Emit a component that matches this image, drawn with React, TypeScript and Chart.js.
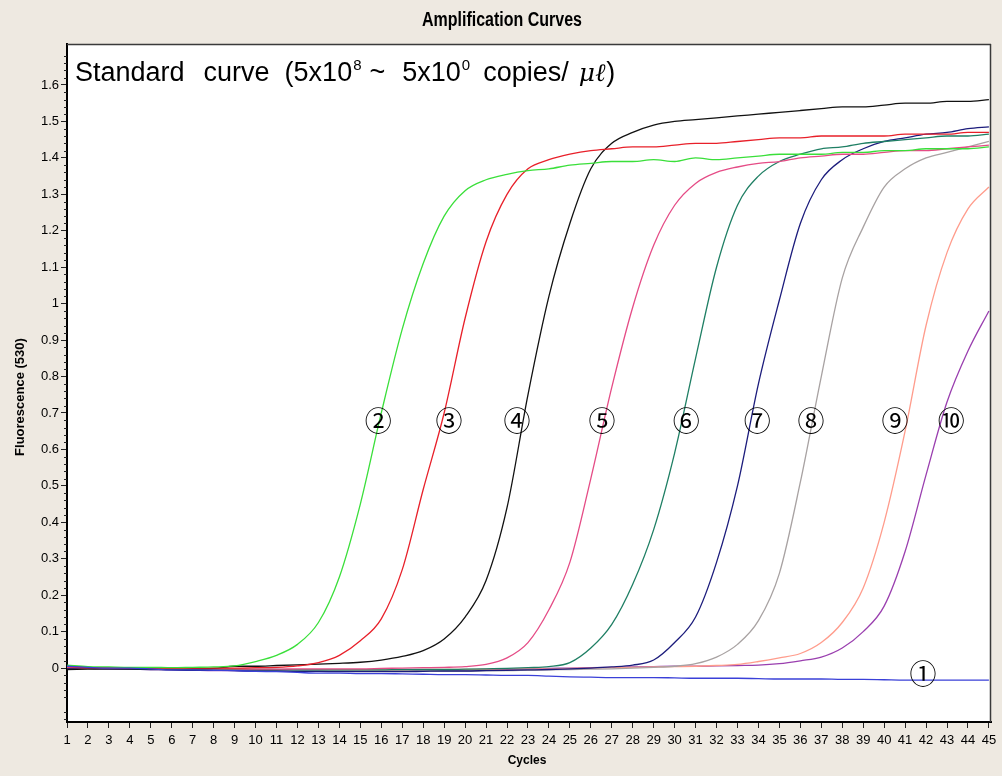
import { useEffect, useRef } from "react";
import { Chart, registerables } from "chart.js";

Chart.register(...registerables);

// ---------------- data ----------------
const cycles = [
  1, 2, 3, 4, 5, 6, 7, 8, 9, 10, 11, 12, 13, 14, 15, 16, 17, 18, 19, 20, 21, 22, 23,
  24, 25, 26, 27, 28, 29, 30, 31, 32, 33, 34, 35, 36, 37, 38, 39, 40, 41, 42, 43, 44, 45,
];

const xTickLabels = cycles.map((c) => String(c));

const yTickValues = [0, 0.1, 0.2, 0.3, 0.4, 0.5, 0.6, 0.7, 0.8, 0.9, 1, 1.1, 1.2, 1.3, 1.4, 1.5, 1.6];
const yTickLabels = ["0", "0.1", "0.2", "0.3", "0.4", "0.5", "0.6", "0.7", "0.8", "0.9", "1", "1.1", "1.2", "1.3", "1.4", "1.5", "1.6"];

const sample1 = [
  0.005, 0.002, 0.0, 0.0, -0.002, -0.005, -0.005, -0.006, -0.007, -0.009, -0.01, -0.012, -0.014, -0.014, -0.015,
  -0.015, -0.016, -0.017, -0.018, -0.018, -0.019, -0.02, -0.02, -0.022, -0.024, -0.025, -0.026, -0.026, -0.026, -0.027,
  -0.028, -0.028, -0.028, -0.029, -0.03, -0.03, -0.03, -0.031, -0.031, -0.032, -0.033, -0.033, -0.033, -0.033, -0.033,
];
const sample2 = [
  0.008, 0.004, 0.003, 0.002, 0.002, 0.001, 0.002, 0.003, 0.006, 0.018, 0.035, 0.065, 0.125, 0.25, 0.45,
  0.7, 0.93, 1.11, 1.24, 1.31, 1.34, 1.355, 1.365, 1.37, 1.38, 1.385, 1.39, 1.39, 1.395, 1.39,
  1.4, 1.395, 1.4, 1.405, 1.41, 1.41, 1.41, 1.415, 1.415, 1.42, 1.42, 1.425, 1.425, 1.425, 1.43,
];
const sample3 = [
  0.004, 0.001, 0.0, 0.0, -0.001, -0.001, 0.0, 0.0, 0.0, 0.001, 0.002, 0.006, 0.015, 0.035, 0.075,
  0.135, 0.27, 0.49, 0.7, 0.96, 1.17, 1.3, 1.37, 1.395, 1.41, 1.42, 1.425, 1.43, 1.43, 1.435,
  1.44, 1.44, 1.445, 1.45, 1.455, 1.455, 1.46, 1.46, 1.46, 1.46, 1.465, 1.465, 1.465, 1.47, 1.47,
];
const sample4 = [
  -0.004, -0.003, -0.002, -0.002, -0.002, -0.002, -0.002, -0.001, 0.005, 0.005, 0.007, 0.009, 0.011, 0.013, 0.016,
  0.022, 0.032, 0.048, 0.08, 0.14, 0.24, 0.44, 0.75, 1.02, 1.22, 1.37, 1.44, 1.47, 1.49, 1.5,
  1.505, 1.51, 1.515, 1.52, 1.525, 1.53, 1.535, 1.54, 1.54, 1.545, 1.55, 1.55, 1.555, 1.555, 1.56,
];
const sample5 = [
  0.002, 0.0, 0.0, 0.0, 0.0, 0.0, -0.001, -0.002, -0.002, -0.003, -0.003, -0.002, -0.002, -0.002, -0.002,
  -0.001, 0.0, 0.001, 0.002, 0.004, 0.01, 0.028, 0.07, 0.16, 0.29, 0.52, 0.77, 0.99, 1.16, 1.27,
  1.33, 1.36, 1.375, 1.385, 1.39, 1.4, 1.405, 1.41, 1.41, 1.415, 1.42, 1.42, 1.425, 1.43, 1.435,
];
const sample6 = [
  0.006, 0.002, 0.0, -0.001, -0.002, -0.002, -0.003, -0.003, -0.004, -0.004, -0.004, -0.005, -0.005, -0.005, -0.005,
  -0.005, -0.004, -0.004, -0.004, -0.003, -0.002, -0.001, 0.001, 0.004, 0.015, 0.055, 0.12, 0.23, 0.38, 0.59,
  0.85, 1.1, 1.27, 1.35, 1.39, 1.41, 1.425, 1.43, 1.44, 1.445, 1.45, 1.455, 1.46, 1.46, 1.465,
];
const sample7 = [
  0.0, -0.001, -0.002, -0.003, -0.004, -0.005, -0.006, -0.006, -0.007, -0.008, -0.008, -0.009, -0.009, -0.01, -0.01,
  -0.01, -0.01, -0.009, -0.008, -0.008, -0.007, -0.006, -0.005, -0.004, -0.002, 0.0, 0.003, 0.008, 0.022, 0.07,
  0.14, 0.29, 0.5, 0.78, 1.01, 1.22, 1.34, 1.395, 1.425, 1.445, 1.455, 1.465, 1.47, 1.48, 1.485,
];
const sample8 = [
  0.003, 0.0, -0.001, -0.002, -0.003, -0.004, -0.004, -0.005, -0.005, -0.006, -0.006, -0.007, -0.007, -0.007, -0.008,
  -0.008, -0.008, -0.008, -0.008, -0.008, -0.007, -0.007, -0.006, -0.005, -0.004, -0.003, -0.002, 0.0, 0.002, 0.005,
  0.012, 0.03, 0.065, 0.13, 0.26, 0.51, 0.8, 1.07, 1.21, 1.32, 1.37, 1.4, 1.415, 1.43, 1.445,
];
const sample9 = [
  0.002, 0.0, -0.001, -0.002, -0.002, -0.003, -0.003, -0.004, -0.004, -0.004, -0.005, -0.005, -0.005, -0.005, -0.005,
  -0.005, -0.005, -0.004, -0.004, -0.004, -0.003, -0.003, -0.002, -0.002, -0.001, 0.0, 0.001, 0.002, 0.003, 0.004,
  0.005, 0.007, 0.01, 0.018, 0.028, 0.04, 0.07, 0.125, 0.22, 0.4, 0.65, 0.94, 1.14, 1.26, 1.32,
];
const sample10 = [
  0.0, -0.001, -0.002, -0.003, -0.004, -0.005, -0.006, -0.007, -0.007, -0.008, -0.008, -0.008, -0.008, -0.008, -0.008,
  -0.007, -0.007, -0.006, -0.006, -0.005, -0.004, -0.003, -0.002, -0.001, 0.0, 0.001, 0.002, 0.003, 0.004, 0.005,
  0.005, 0.006, 0.007, 0.008, 0.012, 0.02, 0.03, 0.055, 0.1, 0.17, 0.32, 0.53, 0.73, 0.87, 0.98,
];

const seriesValues = [sample1, sample2, sample3, sample4, sample5, sample6, sample7, sample8, sample9, sample10];
const seriesNames = ["1", "2", "3", "4", "5", "6", "7", "8", "9", "10"];
const seriesColors = [
  "#3A40D8", "#3ADF3A", "#E8202A", "#111111", "#E54C86",
  "#1F7F64", "#1C1C7C", "#A8A2A2", "#FF9C8C", "#9A3FAF",
];

// circled curve labels
const labelTexts = ["①", "②", "③", "④", "⑤", "⑥", "⑦", "⑧", "⑨", "⑩"];
const labelCycles = [41.86, 15.85, 19.23, 22.48, 26.54, 30.55, 33.94, 36.51, 40.52, 43.2];
const labelValues = [-0.014, 0.678, 0.678, 0.678, 0.678, 0.678, 0.678, 0.678, 0.678, 0.678];

const titleText = "Amplification Curves";
const yTitle = "Fluorescence (530)";
const xTitle = "Cycles";

const BG = "#EEE9E1";
const SANS = "'Liberation Sans', Arial, sans-serif";

const decor = {
  id: "decor",
  beforeDraw(chart: any) {
    const { ctx, chartArea: a } = chart;
    ctx.save();
    ctx.fillStyle = BG;
    ctx.fillRect(0, 0, chart.width, chart.height);
    ctx.fillStyle = "#ffffff";
    ctx.fillRect(a.left, a.top, a.right - a.left, a.bottom - a.top);
    ctx.restore();
  },
  afterDatasetsDraw(chart: any) {
    const { ctx, chartArea: a, scales } = chart;
    const xs = scales.x;
    const ys = scales.y;
    ctx.save();
    // circled labels
    ctx.fillStyle = "#000";
    ctx.font = "27px 'Noto Sans CJK KR', 'DejaVu Sans', sans-serif";
    ctx.textAlign = "center";
    ctx.textBaseline = "alphabetic";
    labelTexts.forEach((t, i) => {
      const px = xs.getPixelForValue(labelCycles[i]);
      const py = ys.getPixelForValue(labelValues[i]);
      const m = ctx.measureText(t);
      const off = (m.actualBoundingBoxAscent - m.actualBoundingBoxDescent) / 2;
      ctx.fillText(t, px, py + off);
    });

    // annotation text
    const big = "27px " + SANS;
    const small = "15px " + SANS;
    const ital = "italic 25px 'DejaVu Serif', serif";
    const parts: { t: string; f: string; dy: number; gap: number }[] = [
      { t: "Standard", f: big, dy: 0, gap: 19 },
      { t: "curve", f: big, dy: 0, gap: 15 },
      { t: "(5x10", f: big, dy: 0, gap: 1 },
      { t: "8", f: small, dy: -11, gap: 8 },
      { t: "~", f: big, dy: 0, gap: 17 },
      { t: "5x10", f: big, dy: 0, gap: 1 },
      { t: "0", f: small, dy: -11, gap: 13 },
      { t: "copies/", f: big, dy: 0, gap: 10 },
      { t: "μℓ", f: ital, dy: 0, gap: 1 },
      { t: ")", f: big, dy: 0, gap: 0 },
    ];
    let x = a.left + 8;
    const base = a.top + 37;
    ctx.textAlign = "left";
    parts.forEach((p) => {
      ctx.font = p.f;
      ctx.fillText(p.t, x, base + p.dy);
      x += ctx.measureText(p.t).width + p.gap;
    });

    // frame top/right
    ctx.strokeStyle = "#3a3a3a";
    ctx.lineWidth = 1.5;
    ctx.beginPath();
    ctx.moveTo(a.left, a.top + 0.5);
    ctx.lineTo(a.right, a.top + 0.5);
    ctx.moveTo(a.right - 0.5, a.top);
    ctx.lineTo(a.right - 0.5, a.bottom);
    ctx.stroke();
    ctx.restore();
  },
  afterDraw(chart: any) {
    const { ctx, chartArea: a, scales } = chart;
    const ys = scales.y;
    ctx.save();
    // minor ticks on y axis
    ctx.strokeStyle = "#222";
    ctx.lineWidth = 1;
    ctx.beginPath();
    for (let k = -7; k <= 85; k++) {
      if (k % 5 === 0) continue;
      const py = Math.round(ys.getPixelForValue(k * 0.02)) + 0.5;
      if (py < a.top || py > a.bottom) continue;
      ctx.moveTo(a.left - 3, py);
      ctx.lineTo(a.left, py);
    }
    ctx.stroke();

    // chart title (condensed bold)
    ctx.fillStyle = "#000";
    ctx.save();
    ctx.translate((chart.width) / 2 + 1, 20);
    ctx.scale(0.8, 1);
    ctx.font = "bold 20px " + SANS;
    ctx.textAlign = "center";
    ctx.textBaseline = "middle";
    ctx.fillText(titleText, 0, 0);
    ctx.restore();

    // axis titles
    ctx.font = "bold 12px " + SANS;
    ctx.textAlign = "center";
    ctx.textBaseline = "middle";
    ctx.fillText(xTitle, 527, 761);
    ctx.font = "bold 13px " + SANS;
    ctx.translate(20, 397);
    ctx.rotate(-Math.PI / 2);
    ctx.fillText(yTitle, 0, 0);
    ctx.restore();
  },
};

export default function App() {
  const ref = useRef<HTMLCanvasElement | null>(null);

  useEffect(() => {
    document.body.style.margin = "0";
    document.body.style.background = BG;
    const canvas = ref.current;
    if (!canvas) return;
    const chart = new Chart(canvas, {
      type: "line",
      data: {
        datasets: seriesValues.map((vals, si) => ({
          label: seriesNames[si],
          data: cycles.map((c, i) => ({ x: c, y: vals[i] })),
          borderColor: seriesColors[si],
          backgroundColor: seriesColors[si],
          borderWidth: 1.3,
          pointRadius: 0,
          cubicInterpolationMode: "monotone",
          fill: false,
        })),
      },
      options: {
        responsive: false,
        animation: false,
        devicePixelRatio: 1,
        layout: { padding: { left: 0, right: 11, top: 44, bottom: 0 } },
        plugins: {
          legend: { display: false },
          tooltip: { enabled: false },
          title: { display: false },
        },
        scales: {
          x: {
            type: "linear",
            min: 1,
            max: 45.1,
            afterBuildTicks: (s: any) => {
              s.ticks = cycles.map((v) => ({ value: v }));
            },
            afterFit: (s: any) => {
              s.height = 54;
            },
            ticks: {
              autoSkip: false,
              maxRotation: 0,
              minRotation: 0,
              padding: 5,
              color: "#000",
              font: { family: SANS, size: 13 },
              callback: (_v: any, i: number) => xTickLabels[i],
            },
            grid: {
              display: true,
              drawOnChartArea: false,
              drawTicks: true,
              tickLength: 6,
              color: "#000",
              tickColor: "#222",
            },
            border: { display: true, color: "#000", width: 2 },
          },
          y: {
            type: "linear",
            min: -0.148,
            max: 1.7125,
            afterBuildTicks: (s: any) => {
              s.ticks = yTickValues.map((v) => ({ value: v }));
            },
            afterFit: (s: any) => {
              s.width = 67;
            },
            ticks: {
              padding: 2,
              color: "#000",
              font: { family: SANS, size: 13 },
              callback: (_v: any, i: number) => yTickLabels[i],
            },
            grid: {
              display: true,
              drawOnChartArea: false,
              drawTicks: true,
              tickLength: 6,
              color: "#000",
              tickColor: "#222",
            },
            border: { display: true, color: "#000", width: 2 },
          },
        },
      },
      plugins: [decor],
    });
    return () => chart.destroy();
  }, []);

  return (
    <div style={{ width: 1002, height: 776, background: BG, overflow: "hidden" }}>
      <canvas ref={ref} width={1002} height={776} style={{ display: "block" }} />
    </div>
  );
}
